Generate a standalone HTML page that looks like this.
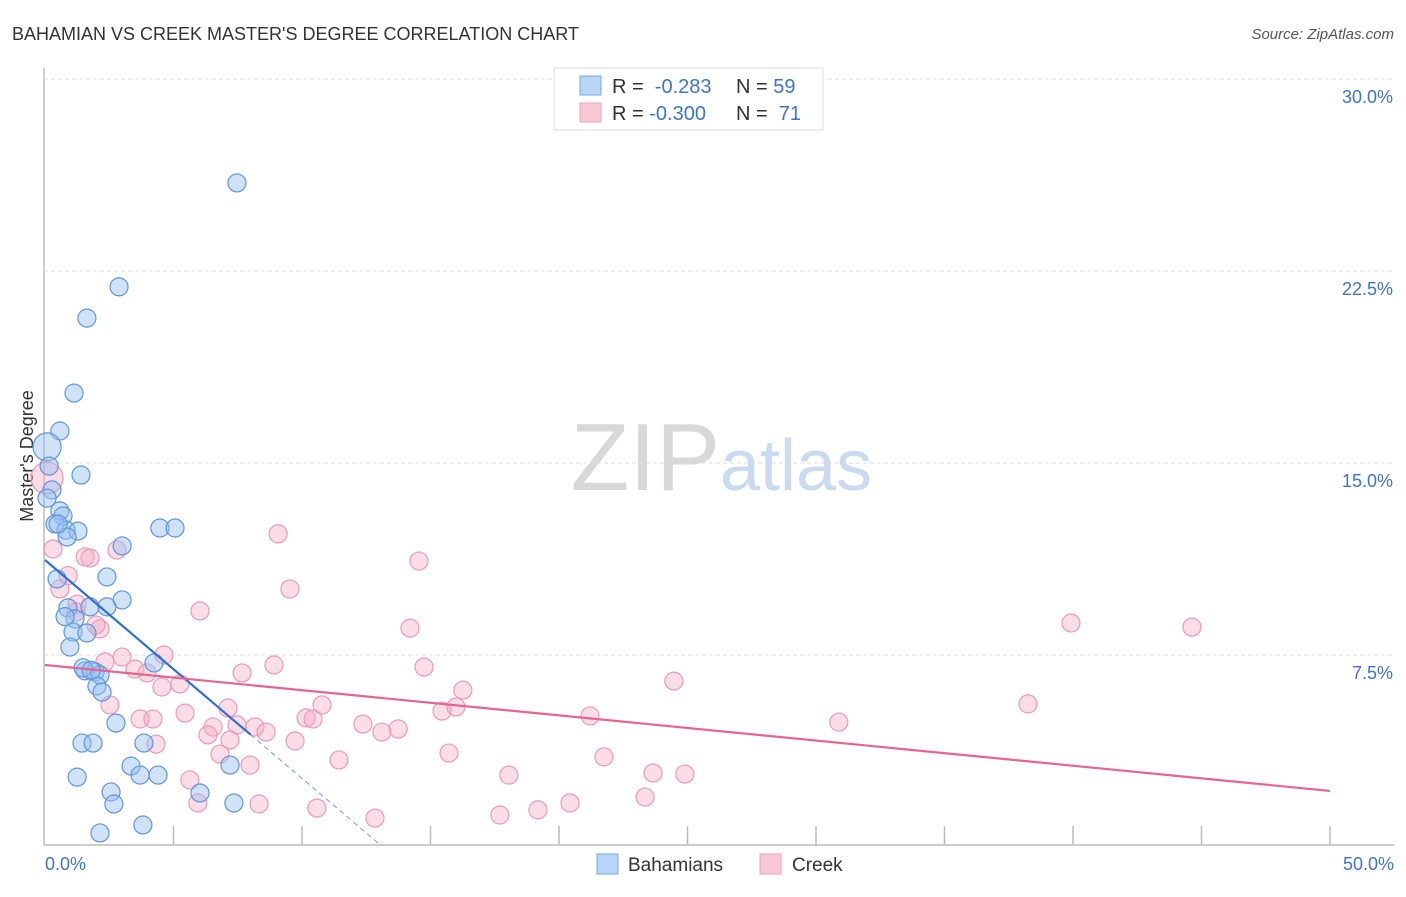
<!DOCTYPE html>
<html><head><meta charset="utf-8"><style>
body{margin:0;background:#fff;font-family:"Liberation Sans",sans-serif;}
svg text{font-family:"Liberation Sans",sans-serif;}
</style></head><body>
<svg id="chart" width="1406" height="892">
<text x="12" y="40" font-size="18" fill="#333">BAHAMIAN VS CREEK MASTER'S DEGREE CORRELATION CHART</text>
<text x="1394" y="39" font-size="15" fill="#555" font-style="italic" text-anchor="end">Source: ZipAtlas.com</text>
<text x="33" y="456" font-size="18" fill="#333" text-anchor="middle" transform="rotate(-90 33 456)">Master's Degree</text>
<text x="720" y="490" font-size="96" fill="#d8d8d8" text-anchor="end" font-family="Liberation Serif">ZIP</text>
<text x="720" y="490" font-size="72" fill="#c9daf1">atlas</text>
<g id="grid"></g><g id="pts"></g><g id="lines"></g>
<g>
<rect x="554" y="68" width="269" height="62" fill="#fff" stroke="#ddd"/>
<rect x="580" y="76" width="21" height="19" fill="#b8d4f6" stroke="#7aa7e3"/>
<rect x="580" y="103" width="21" height="19" fill="#f8c8d6" stroke="#eba3b9"/>
<text x="612" y="93" font-size="20" fill="#333">R = <tspan fill="#3d74d4">&#160;-0.283</tspan><tspan x="736">N = </tspan><tspan fill="#3d74d4">59</tspan></text>
<text x="612" y="120" font-size="20" fill="#333">R = <tspan fill="#3d74d4">-0.300</tspan><tspan x="736">N = </tspan><tspan fill="#3d74d4">&#160;71</tspan></text>
</g>
<g>
<rect x="597" y="854" width="21" height="20" fill="#b8d4f6" stroke="#7aa7e3"/>
<text x="628" y="871" font-size="19" fill="#333">Bahamians</text>
<rect x="760" y="854" width="21" height="20" fill="#f8c8d6" stroke="#eba3b9"/>
<text x="792" y="871" font-size="19" fill="#333">Creek</text>
</g>
</svg>
<script>
const xTicks=[0,5,10,15,20,25,30,35,40,45,50];
const yTicks=[7.5,15,22.5,30];
const yTickLabels=["7.5%","15.0%","22.5%","30.0%"];
const blueX=[7.47,2.88,1.63,1.13,0.58,0.08,1.40,0.16,0.27,0.08,0.58,0.70,0.39,0.82,1.28,0.86,0.51,4.47,5.06,3.00,2.41,0.47,3.00,2.41,0.89,1.17,1.75,1.09,1.63,0.97,4.24,1.56,1.95,2.14,2.02,2.22,2.76,1.44,1.87,3.85,1.25,3.35,3.70,4.40,7.20,2.57,6.03,2.68,7.35,2.14,3.81,0.78,1.48,1.80];
const blueY=[25.94,21.88,20.66,17.73,16.25,15.63,14.53,14.88,13.95,13.63,13.13,12.93,12.62,12.38,12.34,12.11,12.62,12.46,12.46,11.76,10.55,10.47,9.65,9.38,9.34,8.91,9.38,8.40,8.36,7.81,7.19,6.88,6.84,6.72,6.29,6.05,4.84,4.06,4.06,4.06,2.73,3.16,2.81,2.81,3.20,2.15,2.11,1.68,1.72,0.55,0.86,9.0,7.0,6.9];
const blueR=[9,9,9,9,9,14,9,9,9,9,9,9,9,9,9,9,9,9,9,9,9,9,9,9,9,9,9,9,9,9,9,9,9,9,9,9,9,9,9,9,9,9,9,9,9,9,9,9,9,9,9,9,9,9];
const pinkX=[0.08,0.31,0.58,1.56,1.75,2.80,9.07,14.55,9.53,6.03,1.25,2.14,1.98,14.20,39.92,44.63,3.00,4.63,2.33,3.50,3.97,7.67,8.91,14.75,5.25,16.26,24.47,2.53,5.45,10.78,7.12,3.70,4.20,15.45,15.99,21.21,30.89,38.25,10.16,10.43,12.37,6.54,7.47,8.17,7.20,6.34,8.60,9.73,13.11,13.74,4.32,6.81,15.72,11.44,21.75,7.98,5.64,18.05,23.66,24.90,5.95,8.33,10.58,23.35,20.43,19.18,17.70,12.84,1.21,4.55,0.9];
const pinkY=[14.41,11.64,10.08,11.33,11.29,11.60,12.23,11.17,10.08,9.22,9.49,8.52,8.67,8.55,8.75,8.59,7.42,7.50,7.23,6.95,6.80,6.80,7.11,7.03,6.37,6.13,6.48,5.55,5.23,5.55,5.43,5.00,5.00,5.31,5.47,5.12,4.88,5.59,5.04,5.00,4.80,4.69,4.77,4.69,4.18,4.38,4.49,4.14,4.49,4.61,4.02,3.63,3.67,3.40,3.52,3.20,2.62,2.81,2.89,2.85,1.72,1.68,1.52,1.95,1.72,1.45,1.25,1.13,9.18,6.25,10.6];
const blueTrend=[0,11.21,-0.853,8,12.96];
const pinkTrend=[0,7.11,50,2.19];
const X=v=>45+v/50*1285, Y=v=>847-v*25.6;
const NS="http://www.w3.org/2000/svg";
function mk(t,a,p){const e=document.createElementNS(NS,t);for(const k in a)e.setAttribute(k,a[k]);p.appendChild(e);return e;}
const grid=document.getElementById('grid');
mk('line',{x1:44,y1:68,x2:44,y2:845,stroke:'#bbb','stroke-width':1.5},grid);
mk('line',{x1:44,y1:845,x2:1394,y2:845,stroke:'#bbb','stroke-width':1.5},grid);
yTicks.forEach((v,i)=>{
 const g=mk('line',{x1:44,y1:Y(v),x2:1394,y2:Y(v),stroke:'#ddd','stroke-dasharray':'4,3'},grid);
 
 
 const t=mk('text',{x:1393,y:Y(v)+24,'font-size':18,fill:'#3d74d4','text-anchor':'end'},grid);
 t.textContent=yTickLabels[i];
 
 
});
xTicks.forEach((v,i)=>{
 if(i===0)return;
 const l=mk('line',{x1:X(v),y1:826,x2:X(v),y2:845,stroke:'#bbb','stroke-width':1.5},grid);
 
 
});
[[0,'0.0%','start',45],[50,'50.0%','end',1394]].forEach(d=>{
 const t=mk('text',{x:d[3],y:870,'font-size':18,fill:'#3d74d4','text-anchor':d[2]},grid);
 t.textContent=d[1];
 
 
});
const pts=document.getElementById('pts');
pinkX.forEach((x,i)=>{
 const c=mk('circle',{cx:X(x),cy:Y(pinkY[i]),r:i===0?16:9,fill:'rgba(246,170,194,0.4)',stroke:'#ec9ab4','stroke-width':1.2},pts);
 
 
});
blueX.forEach((x,i)=>{
 const c=mk('circle',{cx:X(x),cy:Y(blueY[i]),r:blueR[i],fill:'rgba(150,190,240,0.45)',stroke:'#5f95de','stroke-width':1.2},pts);
 
 
});
const lines=document.getElementById('lines');
const by=x=>blueTrend[1]+blueTrend[2]*x;
const b1=mk('line',{x1:X(0),y1:Y(by(0)),x2:X(blueTrend[3]),y2:Y(by(blueTrend[3])),stroke:'#2d6fd6','stroke-width':2.2},lines);


const b2=mk('line',{x1:X(blueTrend[3]),y1:Y(by(blueTrend[3])),x2:X(blueTrend[4]),y2:Y(by(blueTrend[4])),stroke:'#6f9ae0','stroke-width':1,'stroke-dasharray':'5,4'},lines);


const p1=mk('line',{x1:X(pinkTrend[0]),y1:Y(pinkTrend[1]),x2:X(pinkTrend[2]),y2:Y(pinkTrend[3]),stroke:'#e8648f','stroke-width':2.2},lines);


</script>
</body></html>
